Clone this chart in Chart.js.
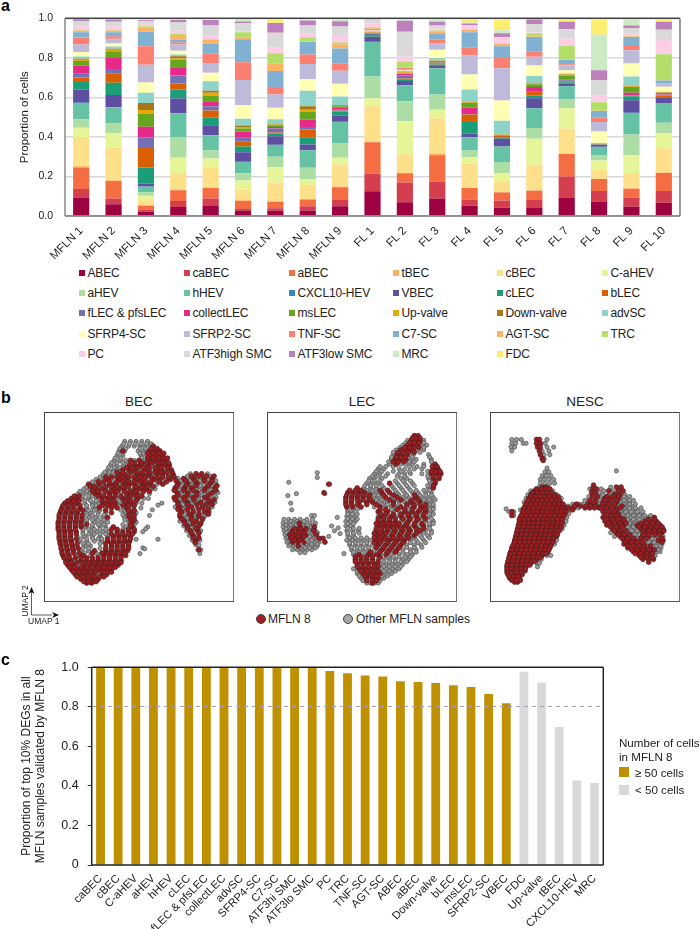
<!DOCTYPE html>
<html>
<head>
<meta charset="utf-8">
<script src="https://cdn.jsdelivr.net/npm/chart.js@4"></script>
<style>
  body { margin: 0; background: #fff; font-family: "Liberation Sans", Arial, sans-serif; color: #222; }
  #page { position: relative; width: 700px; height: 929px; overflow: hidden; }
  #page > * { position: absolute; }
  .letter { font-weight: bold; font-size: 16px; color: #000; left: 1px; }
  .title { font-size: 13.5px; width: 190px; text-align: center; }
  .box { width: 190px; height: 190px; top: 412px; box-sizing: border-box; border: 1.2px solid #444; border-right-color: #777; border-bottom-color: #555; }
  .box canvas { position: absolute; left: -1px; top: -1px; }
  .lg { font-size: 12px; letter-spacing: -0.15px; white-space: nowrap; line-height: 12px; }
  .sw { width: 6px; height: 6px; }
  .txt { font-size: 12px; white-space: nowrap; line-height: 14px; }
  .dot { width: 10px; height: 10px; border-radius: 50%; box-sizing: border-box; border: 1px solid #444; }
</style>
</head>
<body>
<div id="page">
  <div class="letter" style="top:-3px">a</div>
  <canvas id="stacked" width="700" height="264" style="left:0;top:0"></canvas>

  <div class="letter" style="top:389px">b</div>
  <div class="title" style="left:44px;top:394px">BEC</div>
  <div class="title" style="left:267px;top:394px">LEC</div>
  <div class="title" style="left:490px;top:394px">NESC</div>
  <div class="box" style="left:44px"><canvas id="umapBec" width="190" height="190"></canvas></div>
  <div class="box" style="left:267px"><canvas id="umapLec" width="190" height="190"></canvas></div>
  <div class="box" style="left:490px"><canvas id="umapNesc" width="190" height="190"></canvas></div>

  <svg width="70" height="50" style="left:0;top:580px">
    <path d="M31.5 8V35H52" fill="none" stroke="#333" stroke-width="0.8"/>
    <path d="M31.5 7l-3 7 3-2 3 2zM59 35l-7-3 2 3-2 3z" fill="#111"/>
  </svg>
  <div class="txt" style="font-size:8.5px;left:4px;top:594px;transform:rotate(-90deg);width:42px;text-align:center">UMAP 2</div>
  <div class="txt" style="font-size:8.5px;left:28px;top:614px">UMAP 1</div>

  <div class="dot" style="left:256px;top:614px;background:#a31f24"></div>
  <div class="txt" style="left:268px;top:612px">MFLN 8</div>
  <div class="dot" style="left:343px;top:614px;background:#a8a8a8"></div>
  <div class="txt" style="left:356px;top:612px">Other MFLN samples</div>

  <div class="letter" style="top:651px">c</div>
  <canvas id="validated" width="700" height="289" style="left:0;top:640px"></canvas>
  <div class="txt" style="left:619px;top:736px;font-size:11.6px">Number of cells</div>
  <div class="txt" style="left:619px;top:750px;font-size:11.6px">in MFLN 8</div>
  <div style="left:619px;top:767px;width:10px;height:10px;background:#bf9000"></div>
  <div class="txt" style="left:635px;top:766px;font-size:11.6px">≥ 50 cells</div>
  <div style="left:619px;top:785px;width:10px;height:10px;background:#d9d9d9"></div>
  <div class="txt" style="left:635px;top:783px;font-size:11.6px">&lt; 50 cells</div>
</div>

<script>
// panel a: cell type proportions per sample, legend order bottom to top
const samples = ['MFLN 1', 'MFLN 2', 'MFLN 3', 'MFLN 4', 'MFLN 5', 'MFLN 6', 'MFLN 7', 'MFLN 8', 'MFLN 9',
  'FL 1', 'FL 2', 'FL 3', 'FL 4', 'FL 5', 'FL 6', 'FL 7', 'FL 8', 'FL 9', 'FL 10'];
const cellTypes = ['ABEC', 'caBEC', 'aBEC', 'tBEC', 'cBEC', 'C-aHEV',
  'aHEV', 'hHEV', 'CXCL10-HEV', 'VBEC', 'cLEC', 'bLEC',
  'fLEC & pfsLEC', 'collectLEC', 'msLEC', 'Up-valve', 'Down-valve', 'advSC',
  'SFRP4-SC', 'SFRP2-SC', 'TNF-SC', 'C7-SC', 'AGT-SC', 'TRC',
  'PC', 'ATF3high SMC', 'ATF3low SMC', 'MRC', 'FDC'];
const cellColors = ['#9e0142', '#d53e4f', '#f46d43', '#fdae61', '#fee08b', '#e6f598',
  '#abdda4', '#66c2a5', '#3288bd', '#5e4fa2', '#1b9e77', '#d95f02',
  '#7570b3', '#e7298a', '#66a61e', '#e6ab02', '#a6761d', '#8dd3c7',
  '#ffffb3', '#bebada', '#fb8072', '#80b1d3', '#fdb462', '#b3de69',
  '#fccde5', '#d9d9d9', '#bc80bd', '#ccebc5', '#ffed6f'];

const mfln1 = [.094, .042, .109, .007, .147, .047, .044, .081, .002, .067, .038, .022, .02, .04, .024, .006, .005, .012, .023, .038, .035, .026, .009, .004, .018, .025, .01, .003, .002];
const mfln2 = [.06, .028, .089, .003, .167, .072, .049, .082, .001, .061, .062, .045, .025, .055, .034, .008, .005, .011, .015, .024, .013, .021, .008, .004, .018, .022, .012, .003, .003];
const mfln3 = [.021, .01, .021, .003, .025, .022, .018, .028, .001, .015, .081, .104, .049, .053, .067, .018, .035, .052, .052, .09, .094, .073, .023, .005, .016, .009, .005, .004, .006];
const mfln4 = [.045, .031, .054, .003, .085, .077, .103, .121, .001, .074, .046, .03, .041, .041, .039, .006, .011, .009, .019, .031, .011, .013, .025, .006, .015, .044, .011, .004, .004];
const mfln5 = [.05, .038, .053, .003, .101, .046, .042, .076, .001, .049, .038, .037, .021, .025, .029, .014, .01, .049, .042, .05, .047, .051, .021, .001, .018, .052, .028, .002, .002];
const mfln6 = [.028, .008, .04, .004, .053, .047, .036, .057, .001, .049, .028, .024, .021, .031, .016, .007, .008, .034, .068, .128, .09, .116, .01, .026, .003, .043, .008, .014, .002];
const mfln7 = [.026, .013, .032, .004, .094, .078, .053, .059, .001, .044, .013, .005, .02, .008, .009, .002, .003, .025, .058, .067, .034, .086, .039, .05, .031, .073, .049, .002, .022];
const mfln8 = [.028, .021, .034, .002, .072, .028, .059, .089, .001, .028, .034, .042, .012, .037, .042, .008, .018, .078, .059, .077, .048, .063, .003, .021, .02, .039, .026, .004, .003];
const mfln9 = [.049, .032, .065, .003, .111, .035, .072, .109, .001, .031, .02, .004, .008, .01, .005, .002, .003, .044, .065, .066, .038, .074, .022, .008, .039, .042, .027, .012, .003];
const fl1 = [.125, .089, .159, .002, .18, .041, .109, .175, .001, .025, .003, .007, .004, .001, .004, .002, .003, .005, .002, .001, .002, .006, .004, .005, .019, .02, .002, .002, .002];
const fl2 = [.07, .1, .046, .002, .094, .167, .101, .081, .001, .021, .009, .004, .015, .007, .003, .005, .003, .005, .002, .008, .004, .001, .001, .032, .023, .127, .055, .004, .009];
const fl3 = [.089, .086, .132, .008, .179, .043, .077, .133, .001, .015, .003, .007, .002, .002, .007, .002, .001, .012, .042, .032, .021, .031, .01, .003, .012, .014, .018, .012, .006];
const fl4 = [.052, .031, .058, .002, .122, .032, .034, .067, .001, .018, .059, .037, .003, .033, .022, .003, .002, .064, .076, .096, .039, .079, .012, .003, .016, .005, .008, .005, .021];
const fl5 = [.042, .036, .041, .004, .054, .039, .057, .078, .001, .039, .005, .011, .001, .001, .001, .001, .001, .07, .102, .163, .052, .06, .013, .002, .029, .003, .019, .015, .06];
const fl6 = [.041, .04, .047, .002, .131, .13, .054, .1, .001, .05, .014, .017, .002, .024, .014, .003, .004, .034, .053, .044, .028, .073, .002, .017, .003, .043, .023, .003, .003];
const fl7 = [.094, .106, .113, .002, .127, .103, .044, .067, .001, .012, .008, .005, .005, .002, .022, .003, .003, .004, .016, .026, .005, .021, .001, .07, .038, .047, .037, .003, .015];
const fl8 = [.073, .054, .06, .001, .047, .046, .027, .041, .001, .009, .002, .001, .001, .001, .001, .001, .001, .001, .059, .049, .022, .033, .001, .043, .035, .078, .049, .18, .083];
const fl9 = [.047, .047, .044, .002, .078, .089, .105, .109, .001, .064, .02, .002, .002, .013, .03, .002, .002, .049, .065, .067, .022, .046, .002, .002, .015, .025, .014, .034, .002];
const fl10 = [.067, .06, .091, .002, .123, .076, .053, .099, .001, .027, .003, .008, .003, .003, .006, .002, .002, .002, .026, .015, .002, .014, .002, .131, .072, .052, .04, .003, .015];
const sampleValues = [mfln1, mfln2, mfln3, mfln4, mfln5, mfln6, mfln7, mfln8, mfln9, fl1, fl2, fl3, fl4, fl5, fl6, fl7, fl8, fl9, fl10];

// panel b: UMAP cells, each row is [y, x, x, x...] (box is 190 units wide)
const becMfln = [[31,110],[36,78,106,112,117],[41,108,114,120],[46,86,95,106,112,118,123],[51,85,91,96,105,116,122,127],
  [56,78,84,90,102,114,119,129],[61,75,81,94,99,104,114,120,131],[66,62,75,81,92,98,111,117,128],[71,42,53,64,69,80,85,90,100,106,120],
  [76,50,56,68,74,79,90,96,102],[81,49,53,64,70,82,88,93],[86,24,29,56,62,67,78,83,94],[91,17,23,30,58,64,70,82,87],
  [96,14,20,26,33,53,66,72,82],[101,12,18,24,30,66,86],[106,11,17,23,29,35,62,85],[111,10,16,22,28,34,88],[116,10,16,22,28,34,68,88],
  [121,11,17,23,29,72,78,84,90],[126,11,17,23,68,74,80,86],[131,12,18,24,62,68,74,80,85],[136,13,19,25,66,72,78,84],
  [141,14,20,26,48,60,66,72,78,83],[146,15,21,36,58,64,70,76,81],[151,18,23,34,40,46,52,58,64,70,76],[156,20,26,38,44,50,56,62,68,73],
  [161,24,30,36,42,48,54,60,66],[166,28,34,40,46,56,61],[171,34,40,46,52],[175,40,45],
  [33.5,108,114],[38.5,104,110,116,121],[43.5,104,110,116,121,125],[48.5,90,98,103,109,115,120,126],[53.5,82,88,94,100,106,112,118,125],
  [58.5,72,78,86,92,98,106,112,118,124,130],[63.5,60,66,72,78,84,90,96,102,108,114,120,126,132],[68.5,52,58,64,72,78,84,90,96,102,108,116,124],
  [73.5,44,48,60,66,72,78,84,92,98,104,110],[78.5,46,52,60,66,72,80,86,92,100,106],[83.5,27,32,52,58,64,70,76,86,92,98],
  [88.5,20,26,32,56,62,68,80,86,92],[93.5,15,21,27,33,56,62,68,78,84,90],[98.5,13,19,25,31,36,60,84,90],[103.5,11,17,23,29,35,84,90],
  [108.5,11,17,23,29,35,86,90],[113.5,10,16,22,28,34,40,86],[118.5,10,16,22,28,66,72,84,90],[123.5,11,17,23,29,66,72,78,84,88],
  [128.5,11,17,23,29,62,68,74,80,86],[133.5,12,18,24,30,60,66,72,78,84],[138.5,13,19,25,31,60,66,72,78,84],[143.5,14,20,26,32,46,56,62,68,74,80],
  [148.5,16,22,28,34,40,46,52,58,64,70,76],[153.5,18,24,30,36,42,48,54,60,66,72,76],[158.5,22,28,34,40,46,52,58,64,70],
  [163.5,26,32,38,44,50,56,62,66],[168.5,30,36,42,48,54,58],[173.5,37,42,47,50],
  [60,155,161],[65,142,152,163,172],[70,136,146,156,170],[75,133,143,150,165,175],[80,135,146,156,172],[85,132,142,152,164],
  [90,136,146,160,170],[95,138,150,162],[100,140,152,164],[105,138,150,158],[110,143,155],[115,146,158],[120,149,157],[125,152],[130,155],[140,158],
  [62.5,150,158,166,174],[67.5,134,144,154,164,172],[72.5,135,145,155,168,177],[77.5,132,142,152,164,176],[82.5,136,146,156,168],
  [87.5,133,143,153,168,174],[92.5,136,146,156,166,172],[97.5,136,146,158,168],[102.5,138,148,158,168],[107.5,140,150,162],
  [112.5,143,152,160],[117.5,146,155],[122.5,150,158],[127.5,152,158],[132.5,154]];
const becOther = [[26,80,86,92,98,104],[31,77,84,90,96,101,107],[36,74,80,94,100],[41,72,78,97,103],[46,69,75,81,90,100],
  [51,65,71,79,100,111],[56,62,68,73,96,109,124],[61,57,63,70,88,108,126],[66,50,56,69,86,105,122],[71,47,58,74,95,114],
  [76,37,44,62,84,108,112],[81,31,37,43,58,76,98,106],[86,36,42,50,72,88,100,105],[91,38,46,52,76,92,98],[96,40,47,60,88,97],
  [101,38,44,52,60,80,92],[106,42,50,57,80,90],[111,40,48,56,62,84,92],[116,38,46,54,60,82],[121,36,44,50,58,64],[126,30,38,46,54,62],
  [131,32,40,48,56],[136,30,38,44,60],[141,34,42],[146,30,44,52],[151,28],[156,32],[166,50],
  [28.5,79,85,91,97,103,108],[33.5,75,81,96,102],[38.5,73,78,96,100],[43.5,70,76,98],[48.5,66,72,78,84],[53.5,63,69,75],[58.5,59,64,68],
  [63.5,54],[68.5,46],[73.5,40,54],[78.5,33,40],[83.5,36,42,46,82],[88.5,38,44,50,74],[93.5,40,46,50,72],[98.5,42,48,54,76,80],
  [103.5,40,46,52,58,78],[108.5,40,46,52,58,80],[113.5,46,52,58,78,90],[118.5,36,42,48,54,60,78],[123.5,36,42,48,54,60],
  [128.5,34,40,46,52,56],[133.5,36,42,54],[138.5,36,42,54],[143.5,38,50],
  [60,149,167],[65,136,147,157,168],[70,141,151,161,166,175],[75,138,155,160,170],[80,140,151,161,167,178],[85,137,147,158,170,176],
  [90,141,151,155,166,175],[95,133,144,156,168,172],[100,146,158,169],[105,144,154,164],[110,138,149,161],[115,142,152],
  [120,145,153,160],[125,148,157],[130,151,159],[135,155,158],[140,157,160],[144,159],
  [62.5,146,154,170],[67.5,139,149,159,176],[72.5,140,150,160,172],[77.5,137,147,158,170],[82.5,141,151,162,174],[87.5,138,148,158,164],
  [92.5,141,151,161],[97.5,141,152,164],[102.5,143,153,163],[107.5,145,156],[112.5,148,156],[117.5,150],
  [91,119],[93,115],[98,109],[104,106],[116,104],[118,102],[121,99],[129,92,115],[138,99],[139,101],[144,96]];

const lecMfln = [[20,150,154],[25,147,152,156],[30,143,148,153],[35,136,141,146],[40,132,137,143],[45,130,135,141],[50,131,172],
  [55,170,175],[60,168,174,178],[65,170,176],[70,124,172],[75,90,170],[80,80,86,92,98,116,124],[85,78,84,90,96,102,120,132,152],
  [90,78,84,92,100,106,128,146,156],[95,79,85,94,114,136,150,158],[100,112,122,140,148,154,162],[105,116,126,136,144,152,160],
  [110,112,118,124,130,144,152],[115,112,118,126,132,140,150,160],[120,110,116,122,130,138,146,156],[125,112,118,126,134,142,150],
  [130,110,116,124,132,140],[135,112,120,128,136],[140,116,124,132],[145,92,102,110,120],[150,88,94,100,106],[155,90,96,102,108],
  [160,92,98,104,110],[165,96,102,108,114],[170,100,106,112],[175,106],
  [22.5,148,152,156],[27.5,145,150,155],[32.5,140,145,150,155],[37.5,133,138,144,150],[42.5,131,136,141],[47.5,128,133,139],[52.5,169,174],
  [57.5,168,173,177],[62.5,170,176],[67.5,172],[72.5,170],[77.5,82,88,94,114,122],[82.5,79,85,91,97,103,118,128,150],
  [87.5,78,84,90,96,104,124,136,148,154],[92.5,78,84,90,100,110,128,142,150,156,162],[97.5,114,120,132,140,148,156,162],
  [102.5,114,120,128,136,144,152,160],[107.5,112,118,124,130,138,146,154,162],[112.5,110,116,122,128,134,142,150,158],
  [117.5,110,116,122,128,136,144,152,160],[122.5,108,114,120,128,136,144,152],[127.5,108,114,120,128,136,144],[132.5,108,114,122,130,138],
  [137.5,110,118,126,134],[142.5,104,114,122,130],[147.5,88,94,100,106,114],[152.5,88,94,100,106,112],[157.5,90,96,102,108,112],
  [162.5,94,100,106,112],[167.5,98,104,110],[172.5,100,106,110],
  [116,30,45],[112,29],[120,22,28,34,44],[124,19,24,30,36,47],[128,20,26,32,50,54],[132,22,28,34,56],[136,28],[71,60],[80,55],
  [118,24,30,36],[122,22,28,34],[126,22,28,34],[130,24,30]];
const lecOther = [[25,143,160],[30,138,158,163],[35,131,152,160],[40,128,149,165],[45,126,146,152,168],[50,124,136,141,148,160,170],
  [55,112,118,134,140,150,158],[60,108,114,122,134,140,146,158],[65,103,108,116,136,142,165],[70,100,106,112,132,140,148,167],
  [75,97,104,110,118,128,136,144,165],[80,104,110,132,140,148,154,162,168],[85,108,114,126,138,144,158,164,170],
  [90,112,118,122,134,140,150,162,168],[95,108,120,126,130,142,146,164,170],[100,80,85,118,128,134,144,158,168],
  [105,79,84,88,112,122,131,140,148,156,166],[110,78,83,88,136,140,158,162,170],[115,78,84,122,136,145,155,166],
  [120,79,85,91,126,134,142,152,162,168],[125,80,86,108,122,130,138,146,156,164],[130,79,85,90,96,104,120,128,136,146,152,160],
  [135,82,88,94,100,106,116,124,132,142,150,157],[140,84,90,96,102,108,112,120,128,138,146,152],[145,86,90,98,106,114,126,134,142,148],
  [150,112,118,124,130,138,144],[155,114,120,126,132,138],[160,86,116,122,128,134],[165,90,120,126],[170,94,118],[175,100,104,108,112],
  [27.5,141,160],[32.5,135,160],[37.5,128,156],[42.5,126,148,166],[47.5,123,145,150,168],[52.5,114,120,128,145,153,160],
  [57.5,110,116,128,136,145,164],[62.5,106,112,120,132,140,164],[67.5,102,108,114,130,138,146,166],[72.5,98,104,110,116,126,134,142,150,164],
  [77.5,100,106,130,138,146,152,160,166],[82.5,108,112,134,142,156,162,168],[87.5,110,116,130,142,160,166,172],[92.5,116,122,134,146,166,170],
  [97.5,80,86,90,126,166,170],[102.5,80,85,90,166,170],[107.5,80,85,90,168],[112.5,80,86,166,170],[117.5,80,86,92,166],[122.5,80,86,92,160,168],
  [127.5,82,88,94,100,150,158,166],[132.5,82,88,94,100,146,154,162],[137.5,84,90,96,102,142,150,158],[142.5,86,92,98,138,146,152],
  [147.5,122,128,134,140,146],[152.5,118,124,130,136,142],[157.5,118,124,130,136],[162.5,90,118,124,130],[167.5,92,116,122],[172.5,96,114],
  [104,42,45],[108,13,18,24,30,37,43],[112,12,17,22,34,40,46],[116,12,17,23,28,36,41],[120,13,18,40,46],[124,14,42],[128,15,38,44],
  [132,16,40,46,50],[136,18,23,33,38,43,48],[140,22,27,32,37,42],[143,30,35],
  [110,20,27,34],[114,15,20,26,32,38,44],[118,15,20,26,38,44],[122,16,42,48],[126,17,40,46],[130,18,42,48],[134,20,26,36,42,48],[138,25,30,35,40,46],
  [59,48],[64,48],[69,18],[71,61],[81,26,56],[83,17],[91,20],[98,21],[106,69],[115,63],[117,70],[120,66],[123,72],[126,60],[144,76]];

const nescMfln = [[74,50,54],[78,42,47,52,57],[82,38,43,48,54,59,64],[86,36,41,46,51,56,61,66],[90,34,39,44,49,54,59,64,69],
  [94,32,37,42,47,52,62,67,72],[98,30,35,40,45,50,55,60,65,70,75],[102,29,34,43,48,53,58,63,68,73],[106,27,32,37,42,47,56,61,66,71],
  [110,26,31,36,41,46,51,56,65,70],[114,25,30,35,40,45,50,59,64,69],[118,24,29,34,43,48,53,58,63,68],[122,23,28,33,38,47,52,57,62,66],
  [126,22,27,32,37,42,47,52,61,65],[130,21,26,31,36,41,46,51,56,61],[134,20,25,30,35,40,49,54,59],[138,18,23,28,33,38,43,48,53,58],
  [142,17,22,27,32,37,42,47,52,56],[146,16,21,26,31,36,41,46,50],[150,15,20,25,30,35,40,44],[154,14,19,24,29,34,38],[158,13,18,23,28,33],
  [162,13,18,23,28,32],[166,14,19,24,29],[170,16,21,26],[174,21,24],
  [76,44,49,54,58],[80,40,45,50,55,60],[84,38,43,48,53,58,63,67],[88,35,40,45,50,55,60,65,68],[92,33,38,43,48,53,58,63,68,72],
  [96,31,36,41,46,51,56,61,66,71,75],[100,30,35,40,45,50,55,60,65,70,75],[104,28,33,38,43,48,53,58,63,68,73],[108,26,31,36,41,46,51,56,61,66,71],
  [112,26,31,36,41,46,51,56,61,66,71],[116,25,30,35,40,45,50,55,60,65,70],[120,24,29,34,39,44,49,54,59,64,68],[124,23,28,33,38,43,48,53,58,63,66],
  [128,22,27,32,37,42,47,52,57,62],[132,21,26,31,36,41,46,51,56,61],[136,19,24,29,34,39,44,49,54,59],[140,18,23,28,33,38,43,48,53,57],
  [144,16,21,26,31,36,41,46,51,54],[148,15,20,25,30,35,40,45,48],[152,14,19,24,29,34,39,42],[156,13,18,23,28,33,37],[160,13,18,23,28,32],
  [164,13,18,23,28],[168,15,20,25],[172,18,23,27],
  [92,86,98,102,106],[96,78,83,95,100,105,110],[72,104],[76,103,107],[80,102,106],[84,103,108],[88,100,106],[94,84,90,96,101,106],[90,104],[98,82],
  [74,128,133],[78,120,130,135],[82,126,132],[86,116,122,130],[90,114,120,128],[94,112,118,126,134],[98,114,120,128],[102,116,122,130],
  [106,114,120,126,132,168],[110,116,122,128,134,158,164,170],[114,118,124,130,136,150,156,162,168,174],[118,124,130,154,160,166,172,177],
  [122,128,134,158,164,170,176],[126,132,138,156,162],[130,136,142,148,172,177],[134,136,142,148,154],[138,140,146,152,158,164],
  [142,146,152,158,164],[146,152,158,164],[150,156,162,167],[153,162],
  [84,118,124,130],[88,116,122,128],[92,114,120,126],[96,112,118,124,132],[100,114,120,126],[104,116,122,128],[108,118,124,130,136,162,168],
  [112,120,126,132,138,154,160,166,172],[116,122,128,134,152,158,164,170,176],[120,126,132,138,156,162,168,174,178],[124,130,136,142,156,162,168,174],
  [128,134,140,146,154,160,176],[132,138,144,150,156,176],[136,140,146,152,158,164],[140,144,150,156,162,168],[144,148,154,160,166],[148,154,160,166],
  [24,44,47],[28,44,48],[32,45,48],[36,47],[40,48],[44,50],[46,51],[100,18],[104,18]];
const nescOther = [[74,47,52,56],[78,38,61],[82,35],[86,33,70],[90,31],[94,57,77],[98,27,80],[102,39,78],[106,52,76],[110,61,75],[114,54,73],
  [118,39,71],[122,43],[126,57],[130,65],[134,45,63],[146,55,59],[150,49],[154,44,47],[158,45],
  [92,82,88,92,110],[96,88],[76,100,112],[80,110],[84,99,112],[88,95,111,115],
  [74,122],[78,115,124],[82,114,120,137],[86,126,135,140],[90,124,133,138,142],[94,122,130,140,146],[98,124,134,139,145,150],
  [102,126,136,142,148,154],[106,137,143,150,156,162],[110,138,144,150],[114,142,146],[118,136,142,148],[122,122,140,146,152],
  [126,126,144,150,168,172,177],[130,154,160,166],[134,160,166,172,176],[138,170,175],[142,170,174],[146,169],
  [80,122,128],[84,128,136,142],[88,130,136,142,146],[92,128,136,142,148],[96,128,136,142,148,154],[100,132,138,144,150,156],
  [104,134,140,146,152,158,164],[108,140,146,152,158],[112,142,148],[116,140,146],[120,144,150],[124,148,152,172],[128,150,166,172],
  [132,162,168,174],[136,170,174],[140,172],
  [24,18,23,28,55],[28,18,22,30,33,53],[32,17,21,55,62],[36,18,50,57],[40,52,58],[44,52],
  [54,55],[57,128],[58,53,57],[62,50,54,59],[66,48,52,57,62],[70,48,53,58,63],[97,12],[100,15,20],[104,20]];

// panel c: share of top DEGs validated by MFLN 8
const deCellTypes = ['caBEC', 'cBEC', 'C-aHEV', 'aHEV', 'hHEV', 'cLEC', 'fLEC & pfsLEC', 'collectLEC', 'advSC', 'SFRP4-SC', 'C7-SC',
  'ATF3hi SMC', 'ATF3lo SMC', 'PC', 'TRC', 'TNF-SC', 'AGT-SC', 'ABEC', 'aBEC', 'Down-valve', 'bLEC', 'msLEC', 'SFRP2-SC', 'VBEC',
  'FDC', 'Up-valve', 'tBEC', 'CXCL10-HEV', 'MRC'];
const deValues = [1, 1, 1, 1, 1, 1, 1, 1, 1, 1, 1, 1, 1, .981, .97, .958, .953, .929, .926, .921, .909, .9, .865, .818,
  .978, .922, .698, .428, .415];
const enoughCells = 24; // first 24 bars have >= 50 cells
const goldColor = '#bf9000';
const paleColor = '#d9d9d9';

const fontName = '"Liberation Sans", Arial, sans-serif';
Chart.defaults.font.family = fontName;
Chart.defaults.color = '#222';
Chart.defaults.animation = false;

// box around the plot area, each side with its own colour
const plotFrame = {
  id: 'plotFrame',
  afterDraw(chart, args, opts) {
    const { left, right, top, bottom } = chart.chartArea;
    const ctx = chart.ctx;
    const side = (color, x1, y1, x2, y2) => {
      ctx.beginPath();
      ctx.strokeStyle = color;
      ctx.lineWidth = opts.width;
      ctx.moveTo(x1, y1);
      ctx.lineTo(x2, y2);
      ctx.stroke();
    };
    ctx.save();
    side(opts.top, left, top, right, top);
    side(opts.right, right, top, right, bottom);
    side(opts.bottom, left, bottom, right, bottom);
    side(opts.left, left, top, left, bottom);
    ctx.restore();
  }
};

new Chart(document.getElementById('stacked'), {
  type: 'bar',
  plugins: [plotFrame],
  data: {
    labels: samples,
    datasets: cellTypes.map((name, i) => ({
      label: name,
      data: sampleValues.map(s => s[i]),
      backgroundColor: cellColors[i],
      barPercentage: 0.5,
      categoryPercentage: 1
    }))
  },
  options: {
    responsive: false,
    layout: { padding: { top: 10.5, right: 20 } },
    plugins: {
      legend: { display: false },
      tooltip: { enabled: false },
      plotFrame: { top: '#444', right: '#777', bottom: '#777', left: '#888', width: 1.5 }
    },
    scales: {
      x: {
        stacked: true,
        afterFit: s => { s.height = 48; },
        grid: { display: false },
        border: { display: false },
        ticks: { autoSkip: false, minRotation: 45, maxRotation: 45, padding: 0, font: { size: 11.5 } }
      },
      y: {
        stacked: true,
        min: 0,
        max: 1,
        afterFit: s => { s.width = 65; },
        title: { display: true, text: 'Proportion of cells', font: { size: 11.5 }, padding: { top: 18, bottom: 0 } },
        grid: { color: '#d9d9d9', lineWidth: 1.5, drawTicks: false },
        border: { display: false },
        ticks: { stepSize: 0.2, padding: 12, font: { size: 10.5 }, callback: v => v.toFixed(1) }
      }
    }
  }
});

// legend of panel a, six columns
const legendX = [79, 184, 289, 393, 497, 602];
const legendY = [272.7, 293, 313.3, 334, 354.3];
const page = document.getElementById('page');
cellTypes.forEach((name, i) => {
  const x = legendX[i % 6];
  const y = legendY[Math.floor(i / 6)];
  const sw = document.createElement('div');
  sw.className = 'sw';
  sw.style.cssText = `left:${x}px;top:${y - 3}px;background:${cellColors[i]}`;
  const t = document.createElement('div');
  t.className = 'lg';
  t.style.cssText = `left:${x + 8.5}px;top:${y - 6}px`;
  t.textContent = name;
  page.append(sw, t);
});

const rowsToPoints = rows => rows.flatMap(([y, ...xs]) => xs.map(x => ({ x, y })));

function umap(id, mflnRows, otherRows) {
  new Chart(document.getElementById(id), {
    type: 'scatter',
    data: {
      datasets: [
        { label: 'MFLN 8', data: rowsToPoints(mflnRows), pointRadius: 2.4, borderWidth: 0.7, backgroundColor: '#a01c20', borderColor: '#4a2020', order: 1 },
        { label: 'Other MFLN samples', data: rowsToPoints(otherRows), pointRadius: 2.1, borderWidth: 0.7, backgroundColor: '#9a9a9a', borderColor: '#4d4d4d', order: 2 }
      ]
    },
    options: {
      responsive: false,
      plugins: { legend: { display: false }, tooltip: { enabled: false } },
      scales: {
        x: { display: false, min: 0, max: 190 },
        y: { display: false, min: 0, max: 190, reverse: true }
      }
    }
  });
}
umap('umapBec', becMfln, becOther);
umap('umapLec', lecMfln, lecOther);
umap('umapNesc', nescMfln, nescOther);

new Chart(document.getElementById('validated'), {
  type: 'bar',
  plugins: [plotFrame],
  data: {
    labels: deCellTypes,
    datasets: [{
      label: 'Validated proportion',
      data: deValues,
      backgroundColor: deValues.map((v, i) => i < enoughCells ? goldColor : paleColor),
      barPercentage: 0.5,
      categoryPercentage: 1
    }]
  },
  options: {
    responsive: false,
    layout: { padding: { top: 27.3, right: 96.7 } },
    plugins: {
      legend: { display: false },
      tooltip: { enabled: false },
      plotFrame: { top: '#222', right: '#222', bottom: '#222', left: '#222', width: 1.5 }
    },
    scales: {
      x: {
        afterFit: s => { s.height = 64; },
        grid: { display: false },
        border: { display: false },
        ticks: { autoSkip: false, minRotation: 45, maxRotation: 45, padding: -1, font: { size: 11.2 } }
      },
      y: {
        min: 0,
        max: 1,
        afterFit: s => { s.width = 91.7; },
        title: {
          display: true,
          text: ['Proportion of top 10% DEGs in all', 'MFLN samples validated by MFLN 8'],
          font: { size: 12 },
          padding: { top: 19, bottom: 0 }
        },
        grid: {
          z: 1,
          color: c => Math.abs(c.tick.value - 0.8) < 1e-6 ? '#a3a3b5' : 'transparent',
          tickColor: '#333',
          tickLength: 4,
          lineWidth: 1
        },
        border: { display: false, dash: [4, 4] },
        ticks: { stepSize: 0.2, padding: 9, font: { size: 12.5 }, callback: v => v === 0 ? '0' : v.toFixed(1) }
      }
    }
  }
});
</script>
</body>
</html>
